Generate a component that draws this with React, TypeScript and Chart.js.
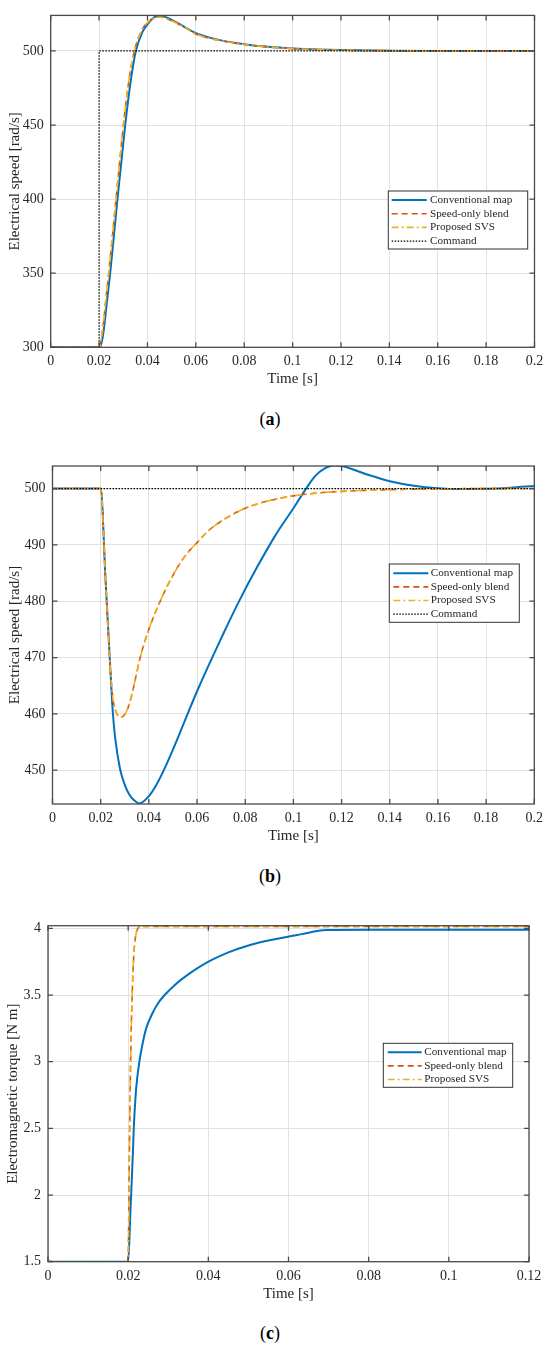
import { useEffect, useRef } from 'react'
import Chart from 'chart.js/auto'

// ---------- (a) speed step 300 -> 500 rad/s ----------
const timeConvA = [0, 0.02, 0.0205, 0.0218, 0.0232, 0.0246, 0.0276, 0.0308, 0.0331, 0.0352, 0.038, 0.0405, 0.0435, 0.046, 0.05, 0.055, 0.06, 0.07, 0.08, 0.09, 0.1, 0.11, 0.12, 0.14, 0.16, 0.2]
const speedConvA = [300, 300, 300.5, 310, 330, 350, 400, 450, 480, 500, 513, 519, 523.2, 523.5, 521, 516.5, 512, 507.3, 504.6, 502.8, 501.7, 501, 500.6, 500.2, 500, 500]
const timeSvsA = [0, 0.02, 0.0203, 0.0215, 0.0228, 0.0243, 0.0273, 0.0304, 0.0327, 0.0346, 0.0375, 0.0402, 0.0435, 0.0455, 0.049, 0.055, 0.06, 0.07, 0.08, 0.09, 0.1, 0.11, 0.12, 0.14, 0.16, 0.2]
const speedSvsA = [300, 300, 300.5, 312, 332, 355, 405, 455, 484, 500, 513.5, 519.5, 522.6, 522.8, 521, 516.3, 511.5, 507, 504.4, 502.7, 501.6, 500.9, 500.5, 500.2, 500, 500]
// the speed-only blend trace lies on top of the SVS trace
const timeBlendA = timeSvsA
const speedBlendA = speedSvsA
const timeCmdA = [0, 0.02, 0.02, 0.2]
const speedCmdA = [300, 300, 500, 500]

// ---------- (b) load step at 500 rad/s ----------
const timeConvB = [0, 0.02, 0.022, 0.024, 0.025, 0.026, 0.028, 0.03, 0.032, 0.034, 0.036, 0.04, 0.044, 0.048, 0.052, 0.056, 0.0605, 0.065, 0.07, 0.0772, 0.085, 0.0924, 0.1, 0.105, 0.109, 0.113, 0.117, 0.121, 0.126, 0.132, 0.14, 0.15, 0.16, 0.17, 0.18, 0.19, 0.2]
const speedConvB = [500, 500, 484, 468, 460.5, 455.8, 450.3, 447.4, 445.6, 444.6, 444.1, 445.4, 448.1, 451.7, 455.7, 459.9, 464.5, 468.8, 473.4, 479.8, 486.1, 491.6, 496.5, 499.8, 502.2, 503.6, 504.1, 503.9, 503.2, 502.3, 501.3, 500.5, 500.05, 499.9, 499.95, 500.15, 500.45]
const timeSvsB = [0, 0.02, 0.022, 0.024, 0.025, 0.026, 0.027, 0.0285, 0.03, 0.032, 0.034, 0.0364, 0.04, 0.0447, 0.05, 0.055, 0.06, 0.065, 0.07, 0.08, 0.09, 0.1, 0.11, 0.12, 0.14, 0.16, 0.2]
const speedSvsB = [500, 500, 484, 468, 463, 460.8, 459.8, 459.4, 459.9, 461.9, 465.4, 470, 475, 480, 484.6, 488, 490.4, 492.6, 494.2, 496.5, 497.85, 498.7, 499.2, 499.5, 499.8, 499.95, 500]
const timeBlendB = timeSvsB
const speedBlendB = speedSvsB
const timeCmdB = [0, 0.2]
const speedCmdB = [500, 500]

// ---------- (c) electromagnetic torque ----------
const timeConvC = [0, 0.001, 0.02, 0.0206, 0.0212, 0.0214, 0.022, 0.0228, 0.0237, 0.0245, 0.026, 0.0275, 0.0291, 0.032, 0.035, 0.038, 0.041, 0.045, 0.05, 0.0565, 0.063, 0.0694, 0.08, 0.1, 0.12]
const torqueConvC = [1.51, 1.5, 1.5, 1.9, 2.33, 2.5, 2.8, 3.0, 3.15, 3.25, 3.36, 3.44, 3.5, 3.585, 3.655, 3.715, 3.765, 3.82, 3.872, 3.918, 3.955, 3.988, 3.99, 3.99, 3.99]
const timeSvsC = [0, 0.001, 0.02, 0.0201, 0.0203, 0.0206, 0.021, 0.0214, 0.0218, 0.0224, 0.023, 0.0237, 0.06, 0.12]
const torqueSvsC = [1.51, 1.5, 1.5, 1.7, 2.3, 3.0, 3.5, 3.8, 3.93, 4.0, 4.012, 4.015, 4.015, 4.015]
const timeBlendC = timeSvsC
const torqueBlendC = torqueSvsC

// ---------- ticks ----------
const timeTicksAB = [0, 0.02, 0.04, 0.06, 0.08, 0.1, 0.12, 0.14, 0.16, 0.18, 0.2]
const timeTicksC = [0, 0.02, 0.04, 0.06, 0.08, 0.1, 0.12]
const speedTicksA = [300, 350, 400, 450, 500]
const speedTicksB = [450, 460, 470, 480, 490, 500]
const torqueTicksC = [1.5, 2, 2.5, 3, 3.5, 4]

const FONT = 'Liberation Serif'
const TEXT = '#262626'
const GRID = '#e2e2e2'
const FRAME = '#4a4a4a'

const pts = (xs: number[], ys: number[]) => xs.map((x, i) => ({ x, y: ys[i] }))

const curves = (conv: any[], blend: any[], svs: any[], cmd?: any[]) => {
  const ds: any[] = [
    { label: 'Conventional map', data: conv, borderColor: '#0072BD', borderWidth: 2, order: 4, cubicInterpolationMode: 'monotone' },
    { label: 'Speed-only blend', data: blend, borderColor: '#D95319', borderWidth: 1.6, borderDash: [6, 4], order: 3, cubicInterpolationMode: 'monotone' },
    { label: 'Proposed SVS', data: svs, borderColor: '#EDB120', borderWidth: 1.6, borderDash: [7, 3, 2, 3], order: 2, cubicInterpolationMode: 'monotone' },
  ]
  if (cmd) ds.push({ label: 'Command', data: cmd, borderColor: '#000000', borderWidth: 1.2, borderDash: [1.5, 1.5], order: 1, tension: 0 })
  return ds.map(d => ({ ...d, pointRadius: 0, fill: false }))
}

const framePlugin = {
  id: 'frame',
  afterDatasetsDraw(chart: any) {
    const { ctx, chartArea, scales } = chart
    const { left, top, right, bottom } = chartArea
    ctx.save()
    ctx.strokeStyle = FRAME
    ctx.lineWidth = 1.3
    ctx.setLineDash([])
    ctx.beginPath()
    scales.x.ticks.forEach((t: any) => {
      const px = scales.x.getPixelForValue(t.value)
      ctx.moveTo(px, bottom); ctx.lineTo(px, bottom - 5)
      ctx.moveTo(px, top); ctx.lineTo(px, top + 5)
    })
    scales.y.ticks.forEach((t: any) => {
      const py = scales.y.getPixelForValue(t.value)
      ctx.moveTo(left, py); ctx.lineTo(left + 5, py)
      ctx.moveTo(right, py); ctx.lineTo(right - 5, py)
    })
    ctx.stroke()
    ctx.strokeRect(left, top, right - left, bottom - top)
    ctx.restore()
  },
}

type LegendBox = { left: number; top: number; width: number; height: number; rowStart: number; rowGap: number; sampleX: number; sampleLen: number; textX: number }

const boxLegend = (o: LegendBox) => ({
  id: 'boxLegend',
  afterDraw(chart: any) {
    const { ctx } = chart
    ctx.save()
    ctx.fillStyle = '#ffffff'
    ctx.fillRect(o.left, o.top, o.width, o.height)
    ctx.strokeStyle = '#333333'
    ctx.lineWidth = 1
    ctx.setLineDash([])
    ctx.strokeRect(o.left, o.top, o.width, o.height)
    ctx.font = `11.2px "${FONT}"`
    ctx.textBaseline = 'middle'
    chart.data.datasets.forEach((ds: any, i: number) => {
      const y = o.top + o.rowStart + i * o.rowGap
      ctx.strokeStyle = ds.borderColor
      ctx.lineWidth = ds.borderWidth
      ctx.setLineDash(ds.borderDash || [])
      ctx.beginPath()
      ctx.moveTo(o.left + o.sampleX, y)
      ctx.lineTo(o.left + o.sampleX + o.sampleLen, y)
      ctx.stroke()
      ctx.setLineDash([])
      ctx.fillStyle = TEXT
      ctx.fillText(ds.label, o.left + o.textX, y)
    })
    ctx.restore()
  },
})

type PanelProps = {
  top: number
  height: number
  area: { left: number; top: number; right: number; bottom: number }
  datasets: any[]
  xMax: number
  xTicks: number[]
  yMin: number
  yMax: number
  yTicks: number[]
  yTitle: string
  yTitleX: number
  legend: LegendBox
}

const fmt = (v: any) => String(Math.round(Number(v) * 1000) / 1000)

const Panel = (p: PanelProps) => {
  const chartRef = useRef<HTMLCanvasElement>(null)

  useEffect(() => {
    const xAxisH = 41
    const chart = new Chart(chartRef.current as HTMLCanvasElement, {
      type: 'line',
      data: { datasets: p.datasets },
      options: {
        responsive: false,
        animation: false,
        layout: { padding: { top: p.area.top, right: 550 - p.area.right, bottom: p.height - p.area.bottom - xAxisH, left: 0 } },
        plugins: { legend: { display: false }, tooltip: { enabled: false } },
        scales: {
          x: {
            type: 'linear',
            min: 0,
            max: p.xMax,
            afterBuildTicks: (s: any) => { s.ticks = p.xTicks.map(value => ({ value })) },
            afterFit: (s: any) => { s.height = xAxisH },
            grid: { color: GRID, drawTicks: false, lineWidth: 1 },
            border: { display: false },
            ticks: { font: { family: FONT, size: 14 }, color: TEXT, padding: 6, maxRotation: 0, autoSkip: false, callback: fmt },
            title: { display: true, text: 'Time [s]', font: { family: FONT, size: 15 }, color: TEXT, padding: { top: 0, bottom: 0 } },
          },
          y: {
            type: 'linear',
            min: p.yMin,
            max: p.yMax,
            afterBuildTicks: (s: any) => { s.ticks = p.yTicks.map(value => ({ value })) },
            afterFit: (s: any) => { s.width = p.area.left },
            grid: { color: GRID, drawTicks: false, lineWidth: 1 },
            border: { display: false },
            ticks: { font: { family: FONT, size: 14 }, color: TEXT, padding: 7, autoSkip: false, callback: fmt },
            title: { display: true, text: p.yTitle, font: { family: FONT, size: 15 }, color: TEXT, padding: { top: p.yTitleX - 9, bottom: 0 } },
          },
        },
      } as any,
      plugins: [framePlugin, boxLegend(p.legend)],
    })
    return () => chart.destroy()
  }, [])

  return (
    <canvas ref={chartRef} width={550} height={p.height} style={{ position: 'absolute', left: 0, top: p.top }}></canvas>
  )
}

const Caption = ({ letter, center }: { letter: string; center: number }) => (
  <div style={{ position: 'absolute', left: 0, width: 540, top: center - 11, lineHeight: '22px', textAlign: 'center', fontFamily: FONT, fontSize: 18, color: '#000' }}>
    (<b>{letter}</b>)
  </div>
)

export default function App() {
  return (
    <div style={{ position: 'absolute', left: 0, top: 0, width: 550, height: 1350, background: '#fff' }}>
      <Panel
        top={0}
        height={390}
        area={{ left: 50.7, top: 8, right: 534.5, bottom: 347.3 }}
        datasets={curves(pts(timeConvA, speedConvA), pts(timeBlendA, speedBlendA), pts(timeSvsA, speedSvsA), pts(timeCmdA, speedCmdA))}
        xMax={0.2}
        xTicks={timeTicksAB}
        yMin={300}
        yMax={524}
        yTicks={speedTicksA}
        yTitle="Electrical speed [rad/s]"
        yTitleX={15}
        legend={{ left: 388.3, top: 191, width: 139.4, height: 58, rowStart: 9, rowGap: 13.7, sampleX: 3.4, sampleLen: 35, textX: 41.7 }}
      />
      <Caption letter="a" center={419} />
      <Panel
        top={440}
        height={410}
        area={{ left: 52.5, top: 26, right: 534.3, bottom: 364 }}
        datasets={curves(pts(timeConvB, speedConvB), pts(timeBlendB, speedBlendB), pts(timeSvsB, speedSvsB), pts(timeCmdB, speedCmdB))}
        xMax={0.2}
        xTicks={timeTicksAB}
        yMin={444}
        yMax={504}
        yTicks={speedTicksB}
        yTitle="Electrical speed [rad/s]"
        yTitleX={15}
        legend={{ left: 389.3, top: 124, width: 130, height: 58.3, rowStart: 9.3, rowGap: 13.6, sampleX: 4, sampleLen: 35, textX: 41.4 }}
      />
      <Caption letter="b" center={875.7} />
      <Panel
        top={890}
        height={420}
        area={{ left: 48, top: 35.7, right: 529, bottom: 371.7 }}
        datasets={curves(pts(timeConvC, torqueConvC), pts(timeBlendC, torqueBlendC), pts(timeSvsC, torqueSvsC))}
        xMax={0.12}
        xTicks={timeTicksC}
        yMin={1.5}
        yMax={4.02}
        yTicks={torqueTicksC}
        yTitle="Electromagnetic torque [N m]"
        yTitleX={13.3}
        legend={{ left: 383.3, top: 153.3, width: 129.4, height: 44, rowStart: 9, rowGap: 13.6, sampleX: 4.4, sampleLen: 34, textX: 41 }}
      />
      <Caption letter="c" center={1332.7} />
    </div>
  )
}
